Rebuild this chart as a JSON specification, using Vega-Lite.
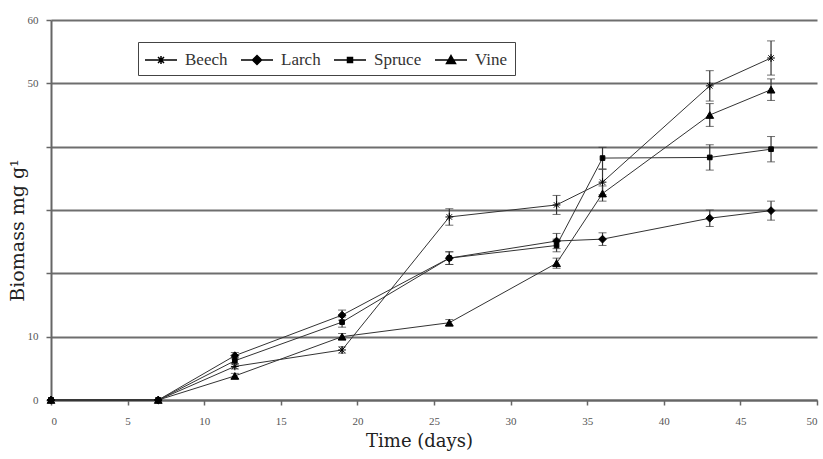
{
  "$schema": "https://vega.github.io/schema/vega-lite/v6.json",
  "autosize": "none",
  "padding": {"left": 51, "top": 20, "right": 6, "bottom": 59},
  "width": 766,
  "height": 380,
  "background": "white",
  "data": {
    "values": [
      {"species": "Beech", "day": 0, "biomass": 0, "err": 0},
      {"species": "Beech", "day": 7, "biomass": 0, "err": 0},
      {"species": "Beech", "day": 12, "biomass": 5.3, "err": 0.4},
      {"species": "Beech", "day": 19, "biomass": 7.9, "err": 0.5},
      {"species": "Beech", "day": 26, "biomass": 28.9, "err": 1.3},
      {"species": "Beech", "day": 33, "biomass": 30.8, "err": 1.5},
      {"species": "Beech", "day": 36, "biomass": 34.4, "err": 2.0},
      {"species": "Beech", "day": 43, "biomass": 49.6, "err": 2.4},
      {"species": "Beech", "day": 47, "biomass": 54.0, "err": 2.7},
      {"species": "Larch", "day": 0, "biomass": 0, "err": 0},
      {"species": "Larch", "day": 7, "biomass": 0, "err": 0},
      {"species": "Larch", "day": 12, "biomass": 7.0, "err": 0.5},
      {"species": "Larch", "day": 19, "biomass": 13.4, "err": 0.8},
      {"species": "Larch", "day": 26, "biomass": 22.4, "err": 1.0},
      {"species": "Larch", "day": 33, "biomass": 25.1, "err": 1.2},
      {"species": "Larch", "day": 36, "biomass": 25.4, "err": 1.0},
      {"species": "Larch", "day": 43, "biomass": 28.7, "err": 1.3},
      {"species": "Larch", "day": 47, "biomass": 29.9, "err": 1.5},
      {"species": "Spruce", "day": 0, "biomass": 0, "err": 0},
      {"species": "Spruce", "day": 7, "biomass": 0, "err": 0},
      {"species": "Spruce", "day": 12, "biomass": 6.2, "err": 0.5},
      {"species": "Spruce", "day": 19, "biomass": 12.3, "err": 0.8},
      {"species": "Spruce", "day": 26, "biomass": 22.4, "err": 1.0},
      {"species": "Spruce", "day": 33, "biomass": 24.4, "err": 1.0},
      {"species": "Spruce", "day": 36, "biomass": 38.2, "err": 1.7},
      {"species": "Spruce", "day": 43, "biomass": 38.3, "err": 2.0},
      {"species": "Spruce", "day": 47, "biomass": 39.6, "err": 2.0},
      {"species": "Vine", "day": 0, "biomass": 0, "err": 0},
      {"species": "Vine", "day": 7, "biomass": 0, "err": 0},
      {"species": "Vine", "day": 12, "biomass": 3.8, "err": 0.4},
      {"species": "Vine", "day": 19, "biomass": 10.0, "err": 0.5},
      {"species": "Vine", "day": 26, "biomass": 12.2, "err": 0.5},
      {"species": "Vine", "day": 33, "biomass": 21.6, "err": 0.8},
      {"species": "Vine", "day": 36, "biomass": 32.6, "err": 1.2},
      {"species": "Vine", "day": 43, "biomass": 45.0, "err": 1.8},
      {"species": "Vine", "day": 47, "biomass": 49.0, "err": 1.7}
    ]
  },
  "config": {
    "view": {"stroke": null},
    "font": "Liberation Serif",
    "axis": {
      "labelFont": "Liberation Serif",
      "titleFont": "DejaVu Serif",
      "labelColor": "#555555",
      "labelFontSize": 11,
      "titleColor": "#222222",
      "titleFontWeight": "normal",
      "domainColor": "#666666",
      "domainWidth": 2,
      "tickColor": "#666666",
      "tickWidth": 1.5,
      "tickSize": 5
    }
  },
  "resolve": {"scale": {"shape": "independent"}, "legend": {"shape": "independent"}},
  "encoding": {
    "x": {
      "field": "day", "type": "quantitative",
      "scale": {"domain": [0, 50], "nice": false},
      "axis": {"values": [0,5,10,15,20,25,30,35,40,45,50], "title": "Time (days)", "grid": false, "labelPadding": 10, "titlePadding": 6, "titleFontSize": 18, "titleX": 368}
    },
    "y": {
      "field": "biomass", "type": "quantitative",
      "scale": {"domain": [0, 60], "nice": false},
      "axis": {"values": [0,10,20,30,40,50,60], "title": "Biomass   mg g¹", "titleFontSize": 19, "titleY": 210, "grid": true, "gridColor": "#6e6e6e", "gridWidth": 2, "labelPadding": 8, "titlePadding": 0,
        "labelExpr": "datum.value == 20 || datum.value == 30 || datum.value == 40 ? '' : datum.label"}
    }
  },
  "layer": [
    {
      "transform": [{"filter": "datum.err > 0"}],
      "mark": {"type": "errorbar", "ticks": {"size": 8, "color": "#333333", "strokeWidth": 1.2}, "rule": {"color": "#333333", "strokeWidth": 1.2}},
      "encoding": {
        "x": {"field": "day", "type": "quantitative"},
        "y": {"field": "biomass", "type": "quantitative"},
        "yError": {"field": "err"},
        "detail": {"field": "species"}
      }
    },
    {
      "mark": {"type": "line", "color": "#333333", "strokeWidth": 1},
      "encoding": {
        "detail": {"field": "species"},
        "order": {"field": "day"}
      }
    },
    {
      "mark": {"type": "point", "filled": true, "opacity": 1, "size": 60, "strokeWidth": 1},
      "encoding": {
        "shape": {
          "field": "species", "type": "nominal",
          "scale": {"domain": ["Beech", "Larch", "Spruce", "Vine"],
            "range": ["M-1,0H1M0,-1V1M-0.7,-0.7L0.7,0.7M-0.7,0.7L0.7,-0.7", "diamond", "M-0.6,-0.6H0.6V0.6H-0.6Z", "triangle-up"]},
          "legend": null
        },
        "color": {"value": "black"},
        "stroke": {"value": "black"}
      }
    },
    {
      "mark": {"type": "point", "filled": true, "opacity": 0, "size": 400, "strokeWidth": 1},
      "encoding": {
        "shape": {
          "field": "species", "type": "nominal",
          "scale": {"domain": ["Beech", "Larch", "Spruce", "Vine"],
            "range": [
              "M-1.6,0H1.6M-0.4,0H0.4M0,-0.4V0.4M-0.3,-0.3L0.3,0.3M-0.3,0.3L0.3,-0.3",
              "M-1.6,0H1.6M0,-0.45L0.45,0L0,0.45L-0.45,0Z",
              "M-1.6,0H1.6M-0.25,-0.25H0.25V0.25H-0.25Z",
              "M-1.6,0H1.6M0,-0.45L0.45,0.35H-0.45Z"]},
          "legend": {
            "title": null,
            "orient": "none",
            "legendX": 87,
            "legendY": 22,
            "direction": "horizontal",
            "strokeColor": "#444444",
            "padding": 7,
            "fillColor": "white",
            "labelFont": "Liberation Serif",
            "labelFontSize": 17,
            "labelColor": "#333333",
            "symbolSize": 400,
            "symbolOpacity": 1,
            "symbolOffset": 5,
            "labelOffset": 13,
            "columnPadding": 10,
            "encode": {
              "symbols": {
                "update": {
                  "fill": {"value": "black"},
                  "stroke": {"value": "black"},
                  "strokeWidth": {"value": 1},
                  "opacity": {"value": 1}
                }
              }
            }
          }
        },
        "color": {"value": "black"},
        "stroke": {"value": "black"}
      }
    }
  ]
}
